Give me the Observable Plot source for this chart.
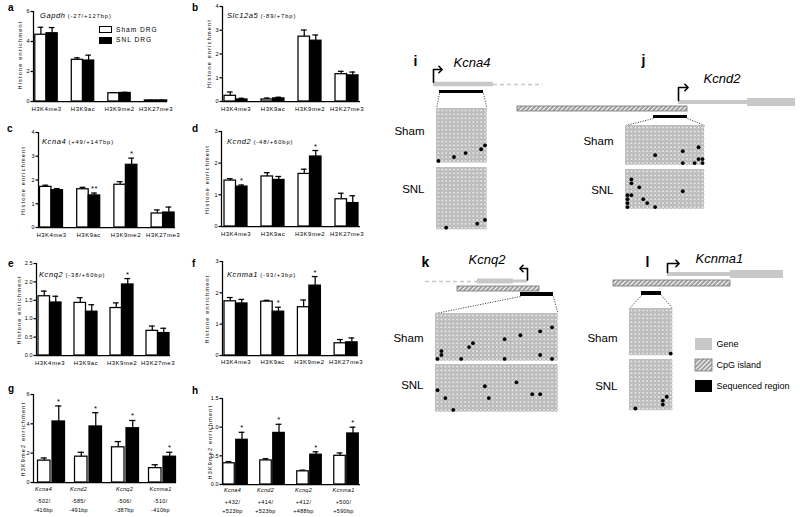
<!DOCTYPE html>
<html><head><meta charset="utf-8">
<script src="https://cdn.jsdelivr.net/npm/d3@7"></script>
<script src="https://cdn.jsdelivr.net/npm/@observablehq/plot@0.6"></script>
<style>
html,body{margin:0;padding:0;background:#fff;}
#fig{position:relative;width:800px;height:517px;overflow:hidden;background:#fff;font-family:"Liberation Sans",Arial,Helvetica,sans-serif;color:#000;}
#fig svg.bar text{letter-spacing:0.5px;}
#fig svg.bar g[aria-description="ylab"] text{letter-spacing:1.2px;}
#fig svg.bar g[aria-description="xsub"] text{letter-spacing:0.3px;}
#fig svg.bar g[aria-description="yticks"] text{letter-spacing:0px;}
</style></head><body>
<div id="fig"></div>
<svg width="0" height="0" style="position:absolute;left:0;top:0"><defs>
<pattern id="hatch" patternUnits="userSpaceOnUse" width="3.2" height="3.2" patternTransform="rotate(45)">
<rect width="3.2" height="3.2" fill="#9d9d9d"/><rect width="1.1" height="3.2" fill="#ffffff"/></pattern></defs></svg>
<script>
// ---------------- DATA ----------------
const histoneMarks = ["H3K4me3", "H3K9ac", "H3K9me2", "H3K27me3"];
const channelGenes = ["Kcna4", "Kcnd2", "Kcnq2", "Kcnma1"];
const gLine2 = ["-502/", "-585/", "-506/", "-510/"];
const gLine3 = ["-416bp", "-491bp", "-387bp", "-410bp"];
const hLine2 = ["+432/", "+414/", "+412/", "+500/"];
const hLine3 = ["+523bp", "+523bp", "+488bp", "+590bp"];

// a: Gapdh
const gapdhSham = [4.45, 2.78, 0.55, 0.07], gapdhShamErr = [0.5, 0.13, 0.04, 0.01];
const gapdhSnl = [4.55, 2.73, 0.57, 0.07], gapdhSnlErr = [0.38, 0.36, 0.04, 0.01];
// b: Slc12a5
const slcSham = [0.24, 0.085, 2.73, 1.15], slcShamErr = [0.16, 0.06, 0.28, 0.12];
const slcSnl = [0.085, 0.13, 2.56, 1.1], slcSnlErr = [0.05, 0.05, 0.24, 0.14];
// c: Kcna4
const kcna4Sham = [1.71, 1.61, 1.8, 0.59], kcna4ShamErr = [0.07, 0.08, 0.13, 0.15];
const kcna4Snl = [1.57, 1.35, 2.64, 0.63], kcna4SnlErr = [0.07, 0.1, 0.28, 0.23];
const kcna4Stars = ["", "**", "*", ""];
// d: Kcnd2
const kcnd2Sham = [1.45, 1.58, 1.66, 0.86], kcnd2ShamErr = [0.06, 0.12, 0.15, 0.19];
const kcnd2Snl = [1.26, 1.47, 2.21, 0.74], kcnd2SnlErr = [0.05, 0.11, 0.19, 0.23];
const kcnd2Stars = ["*", "", "*", ""];
// e: Kcnq2
const kcnq2Sham = [1.61, 1.43, 1.29, 0.67], kcnq2ShamErr = [0.14, 0.14, 0.14, 0.13];
const kcnq2Snl = [1.44, 1.19, 1.93, 0.61], kcnq2SnlErr = [0.17, 0.19, 0.16, 0.13];
const kcnq2Stars = ["", "", "*", ""];
// f: Kcnma1
const kcnma1Sham = [1.73, 1.72, 1.54, 0.39], kcnma1ShamErr = [0.12, 0.04, 0.23, 0.12];
const kcnma1Snl = [1.66, 1.4, 2.23, 0.42], kcnma1SnlErr = [0.13, 0.14, 0.29, 0.14];
const kcnma1Stars = ["", "*", "*", ""];
// g: H3K9me2 upstream
const gSham = [1.49, 1.76, 2.4, 0.98], gShamErr = [0.18, 0.3, 0.39, 0.23];
const gSnl = [4.16, 3.82, 3.7, 1.76], gSnlErr = [1.06, 0.94, 0.53, 0.3];
// h: H3K9me2 downstream
const hSham = [0.37, 0.42, 0.23, 0.5], hShamErr = [0.03, 0.03, 0.02, 0.05];
const hSnl = [0.78, 0.9, 0.52, 0.89], hSnlErr = [0.13, 0.15, 0.05, 0.11];
const allStars = ["*", "*", "*", "*"];
const noStars = ["", "", "", ""];

// Bisulfite diagrams (i-l): structures relative to TSS, methylated CpGs as [site, clone]
const diagramLetters = ["i", "j", "k", "l"];
const geneParts = [[0, 0, 60, "thin"], [1, 0, 69, "thin"], [1, 69, 117, "thick"], [2, -50, -14, "thick"], [2, -14, 0, "thin"], [3, 0, 63, "thin"], [3, 63, 116, "thick"]];
const upstreamDash = [[0, 60, 110], [2, -102, -50]];
const cpgIslands = [[1, -161, 9], [2, -70, 12], [3, -54, 63]];
const seqRegions = [[0, 6, 50], [1, -25, 9], [2, -7, 26], [3, -26, -6]];
const cpgSites = [13, 20, 31, 11];
const shamClones = [14, 10, 12, 12];
const snlClones = [16, 10, 12, 13];
const methKcna4Sham = [[0, 13], [4, 12], [7, 11], [11, 10], [12, 9]];
const methKcna4Snl = [[2, 15], [10, 14], [12, 13]];
const methKcnd2Sham = [[7, 7], [14, 6], [18, 5], [14, 9], [17, 9], [18, 8], [19, 8], [19, 9]];
const methKcnd2Snl = [[1, 2], [1, 3], [3, 4], [14, 5], [0, 6], [1, 6], [0, 7], [4, 7], [0, 8], [5, 8], [0, 9], [7, 9]];
const methKcnq2Sham = [[0, 11], [1, 9], [1, 10], [6, 11], [8, 8], [9, 7], [17, 6], [17, 11], [21, 5], [26, 4], [29, 3], [26, 10], [29, 11]];
const methKcnq2Snl = [[0, 6], [2, 8], [4, 11], [12, 5], [13, 8], [20, 4], [24, 7], [26, 7]];
const methKcnma1Sham = [[10, 11]];
const methKcnma1Snl = [[1, 12], [8, 10], [8, 11], [9, 9]];
const legendItems = ["Gene", "CpG island", "Sequenced region"];
const groupNames = ["Sham", "SNL"];

// ---------------- HELPERS ----------------
const fig = document.getElementById("fig");
const FONT = "Liberation Sans, Arial, Helvetica, sans-serif";
function htmlText(x, base, html, fs, css = "") {
  const d = document.createElement("div");
  d.innerHTML = html;
  d.style.cssText = `position:absolute;left:${x}px;top:${base - 0.83 * fs}px;font-size:${fs}px;line-height:1;white-space:nowrap;${css}`;
  fig.appendChild(d);
  return d;
}
function place(svg, left, top) {
  svg.style.position = "absolute";
  svg.style.left = left + "px";
  svg.style.top = top + "px";
  svg.style.maxWidth = "none";
  fig.appendChild(svg);
}
const f1 = d => d.toFixed(1);
const f0 = d => String(d);

function barPanel(p) {
  const [L, T, W, H] = p.box;
  const rows = p.cats.map((c, i) => ({i, c, sham: p.sham[i], shamE: p.shamErr[i], snl: p.snl[i], snlE: p.snlErr[i], star: p.stars[i],
    l2: p.l2 ? p.l2[i] : null, l3: p.l3 ? p.l3[i] : null, off: p.labOff ? p.labOff[i] : 0}));
  const bw = p.barW / p.pitch, g = (p.gap || 0) / p.pitch;
  const sc = d => d.i - g / 2 - bw / 2, nc = d => d.i + g / 2 + bw / 2;
  const d0 = (p.axisX - p.c0) / p.pitch, d1 = (p.rightX - p.c0) / p.pitch;
  const sw = 1.25;
  const marks = [
    Plot.ruleX(rows, {x: sc, y1: "sham", y2: d => d.sham + d.shamE, strokeWidth: sw}),
    Plot.ruleY(rows, {y: d => d.sham + d.shamE, x1: d => sc(d) - bw / 4, x2: d => sc(d) + bw / 4, strokeWidth: sw}),
    Plot.ruleX(rows, {x: nc, y1: "snl", y2: d => d.snl + d.snlE, strokeWidth: sw}),
    Plot.ruleY(rows, {y: d => d.snl + d.snlE, x1: d => nc(d) - bw / 4, x2: d => nc(d) + bw / 4, strokeWidth: sw}),
    Plot.rect(rows, {x1: d => sc(d) - bw / 2, x2: d => sc(d) + bw / 2, y1: 0, y2: "sham", fill: "white", stroke: "black", strokeWidth: sw}),
    Plot.rect(rows, {x1: d => nc(d) - bw / 2, x2: d => nc(d) + bw / 2, y1: 0, y2: "snl", fill: "black", stroke: "black", strokeWidth: sw}),
    Plot.ruleY([0], {x1: d0, x2: d1, strokeWidth: sw}),
    Plot.ruleX([d0], {y1: 0, y2: p.yMax, strokeWidth: sw}),
    Plot.axisY({ticks: p.ticks, tickFormat: p.fmt, tickSize: 2.5, tickPadding: 1.5, fontSize: 5.5, strokeWidth: sw, label: null, ariaDescription: "yticks"}),
    Plot.text([p.ylabel], {frameAnchor: "left", text: d => d, rotate: -90, dx: -p.ylabDx, dy: p.ylabHalf, textAnchor: "start", fontSize: 5.5, ariaDescription: "ylab"}),
    Plot.text(rows.filter(d => d.star), {x: nc, y: d => d.snl + d.snlE, text: "star", dy: -2, fontSize: 7.5, lineAnchor: "bottom"})
  ];
  if (!p.l2) {
    marks.push(Plot.text(rows, {x: "i", y: 0, text: "c", dy: p.xdy, lineAnchor: "top", fontSize: 6}));
  } else {
    marks.push(Plot.text(rows, {x: d => d.i + d.off / p.pitch, y: 0, text: "c", dy: p.xdy, lineAnchor: "top", fontSize: 5.5, fontStyle: "italic", ariaDescription: "xsub"}));
    marks.push(Plot.text(rows, {x: d => d.i + d.off / p.pitch, y: 0, text: d => d.l2 + "\n" + d.l3, dy: p.xdy + 9, lineAnchor: "top", lineHeight: 1.64, fontSize: 5.5, ariaDescription: "xsub"}));
  }
  const svg = Plot.plot({
    width: W, height: H,
    marginLeft: p.axisX - L, marginRight: L + W - p.rightX,
    marginTop: p.yTop - T, marginBottom: T + H - p.y0,
    x: {domain: [d0, d1], axis: null},
    y: {domain: [0, p.yMax]},
    style: {background: "none", fontFamily: FONT, fontSize: "6px", overflow: "visible", color: "black"},
    marks
  });
  svg.classList.add("bar");
  place(svg, L, T);
}

const HE = "Histone enrichment", KE = "H3K9me2 enrichment";
const panels = [
  {box: [0, 0, 195, 122], axisX: 33, rightX: 167, y0: 101, yTop: 11, yMax: 6, ticks: [0, 2, 4, 6], fmt: f0, c0: 46, pitch: 36.5, barW: 11.2,
   cats: histoneMarks, sham: gapdhSham, shamErr: gapdhShamErr, snl: gapdhSnl, snlErr: gapdhSnlErr, stars: noStars, ylabel: HE, ylabDx: 13, ylabHalf: 33, xdy: 5},
  {box: [195, 0, 195, 122], axisX: 222, rightX: 360, y0: 101, yTop: 6, yMax: 4, ticks: [0, 1, 2, 3, 4], fmt: f0, c0: 235.5, pitch: 37, barW: 11.5,
   cats: histoneMarks, sham: slcSham, shamErr: slcShamErr, snl: slcSnl, snlErr: slcSnlErr, stars: noStars, ylabel: HE, ylabDx: 13.5, ylabHalf: 34, xdy: 5},
  {box: [0, 122, 195, 130], axisX: 38, rightX: 175, y0: 227, yTop: 132, yMax: 4, ticks: [0, 1, 2, 3, 4], fmt: f0, c0: 51, pitch: 37.2, barW: 11.5,
   cats: histoneMarks, sham: kcna4Sham, shamErr: kcna4ShamErr, snl: kcna4Snl, snlErr: kcna4SnlErr, stars: kcna4Stars, ylabel: HE, ylabDx: 15, ylabHalf: 35, xdy: 5},
  {box: [195, 122, 195, 130], axisX: 221, rightX: 360, y0: 226, yTop: 131, yMax: 3, ticks: [0, 1, 2, 3], fmt: f0, c0: 235.5, pitch: 37, barW: 11.5,
   cats: histoneMarks, sham: kcnd2Sham, shamErr: kcnd2ShamErr, snl: kcnd2Snl, snlErr: kcnd2SnlErr, stars: kcnd2Stars, ylabel: HE, ylabDx: 14, ylabHalf: 35, xdy: 5},
  {box: [0, 252, 195, 125], axisX: 36, rightX: 170, y0: 355, yTop: 263, yMax: 2.5, ticks: [0, 0.5, 1, 1.5, 2, 2.5], fmt: f1, c0: 49.5, pitch: 36, barW: 11.5,
   cats: histoneMarks, sham: kcnq2Sham, shamErr: kcnq2ShamErr, snl: kcnq2Snl, snlErr: kcnq2SnlErr, stars: kcnq2Stars, ylabel: HE, ylabDx: 17, ylabHalf: 35, xdy: 5.5},
  {box: [195, 252, 195, 125], axisX: 222, rightX: 358, y0: 355, yTop: 261, yMax: 3, ticks: [0, 1, 2, 3], fmt: f0, c0: 235.5, pitch: 36.7, barW: 11.5,
   cats: histoneMarks, sham: kcnma1Sham, shamErr: kcnma1ShamErr, snl: kcnma1Snl, snlErr: kcnma1SnlErr, stars: kcnma1Stars, ylabel: HE, ylabDx: 15, ylabHalf: 35, xdy: 4},
  {box: [0, 377, 195, 140], axisX: 33, rightX: 176, y0: 482, yTop: 394, yMax: 6, ticks: [0, 2, 4, 6], fmt: f0, c0: 51, pitch: 37, barW: 12.5, gap: 2,
   cats: channelGenes, sham: gSham, shamErr: gShamErr, snl: gSnl, snlErr: gSnlErr, stars: allStars, ylabel: KE, ylabDx: 10, ylabHalf: 38, xdy: 5,
   l2: gLine2, l3: gLine3, labOff: [-8, -10, -1, -2]},
  {box: [195, 377, 195, 140], axisX: 222, rightX: 360, y0: 484, yTop: 398, yMax: 1.5, ticks: [0, 0.5, 1, 1.5], fmt: f1, c0: 235, pitch: 37, barW: 11.5, gap: 1.5,
   cats: channelGenes, sham: hSham, shamErr: hShamErr, snl: hSnl, snlErr: hSnlErr, stars: allStars, ylabel: KE, ylabDx: 12, ylabHalf: 38, xdy: 4,
   l2: hLine2, l3: hLine3, labOff: [-3, -7, -6, -3]}
];
panels.forEach(barPanel);

// Panel letters and titles (HTML text)
const panelLetters = [["a", 8, 11], ["b", 192, 11], ["c", 7, 132], ["d", 192, 132], ["e", 8, 267], ["f", 192, 267], ["g", 8, 392], ["h", 192, 394]];
panelLetters.forEach(([t, x, y]) => htmlText(x, y, t, 10, "font-weight:bold;"));
const titles = [["Gapdh", "(-27/+127bp)", 40, 18], ["Slc12a5", "(-89/+7bp)", 227, 18], ["Kcna4", "(+49/+147bp)", 42, 144],
  ["Kcnd2", "(-48/+60bp)", 227, 144], ["Kcnq2", "(-38/+60bp)", 39, 277], ["Kcnma1", "(-93/+3bp)", 227, 277]];
titles.forEach(([g, s, x, y]) => htmlText(x, y, `<i style="font-size:7.5px;letter-spacing:.6px">${g}</i> <span style="font-size:5.8px;letter-spacing:.9px">${s}</span>`, 7.5));
// legend of panel a
[["Sham DRG", "white", 30], ["SNL DRG", "black", 40.5]].forEach(([t, c, y]) => {
  const b = document.createElement("div");
  b.style.cssText = `position:absolute;left:99px;top:${y - 3.7}px;width:11px;height:5px;border:1.2px solid #000;background:${c};`;
  fig.appendChild(b);
  htmlText(116, y + 2.4, t, 6.6, "letter-spacing:1px;");
});

// ---------------- RIGHT: bisulfite diagrams ----------------
const layout = [
  {tss: 433, gy: 84, cy: 0, sy: 91.5, dir: 1, arrowTop: 69, arrowLen: 7, name: [453, 66], letter: [413, 65], gx: 436, gTop: [108, 167], pitch: 3.88, labY: [131, 189], size: {thin: 4.5, thick: 8, cpg: 5, seq: 3}},
  {tss: 678, gy: 102, cy: 108.5, sy: 116.5, dir: 1, arrowTop: 87, arrowLen: 8, name: [703, 82], letter: [641, 64], gx: 625, gTop: [125, 169], pitch: 3.95, labY: [141, 190], size: {thin: 4, thick: 8, cpg: 5, seq: 3}},
  {tss: 527, gy: 281, cy: 288.5, sy: 294, dir: -1, arrowTop: 268, arrowLen: 6, name: [468, 263], letter: [421, 266], gx: 435, gTop: [313, 364], pitch: 3.95, labY: [338, 385], size: {thin: 3, thick: 5, cpg: 5, seq: 4}},
  {tss: 667, gy: 274, cy: 283, sy: 293, dir: 1, arrowTop: 263, arrowLen: 10, name: [695, 262], letter: [645, 266], gx: 629, gTop: [308, 359], pitch: 3.92, labY: [338, 386], size: {thin: 4, thick: 8, cpg: 6, seq: 4}}
];
const methData = [[methKcna4Sham, methKcna4Snl], [methKcnd2Sham, methKcnd2Snl], [methKcnq2Sham, methKcnq2Snl], [methKcnma1Sham, methKcnma1Snl]];

const genes = geneParts.map(([k, a, b, t]) => {const L = layout[k], h = L.size[t]; return {x1: L.tss + a, x2: L.tss + b, y1: L.gy - h / 2, y2: L.gy + h / 2};});
const dashes = upstreamDash.map(([k, a, b]) => {const L = layout[k]; return {x1: L.tss + a, x2: L.tss + b, y: L.gy};});
const islands = cpgIslands.map(([k, a, b]) => {const L = layout[k], h = L.size.cpg; return {x1: L.tss + a, x2: L.tss + b, y1: L.cy - h / 2, y2: L.cy + h / 2};});
const seqs = seqRegions.map(([k, a, b]) => {const L = layout[k], h = L.size.seq; return {k, x1: L.tss + a, x2: L.tss + b, y1: L.sy - h / 2, y2: L.sy + h / 2};});
const grids = [], cells = [], meth = [], groupLabels = [];
layout.forEach((L, k) => {
  [0, 1].forEach(grp => {
    const n = grp ? snlClones[k] : shamClones[k];
    const top = L.gTop[grp];
    grids.push({k, grp, x1: L.gx, x2: L.gx + cpgSites[k] * L.pitch, y1: top, y2: top + n * L.pitch});
    for (let r = 0; r < n; r++) for (let s = 0; s < cpgSites[k]; s++)
      cells.push({x: L.gx + (s + 0.5) * L.pitch, y: top + (r + 0.5) * L.pitch});
    methData[k][grp].forEach(([s, r]) => meth.push({x: L.gx + (s + 0.5) * L.pitch, y: top + (r + 0.5) * L.pitch}));
    groupLabels.push({x: L.gx - 12, y: L.labY[grp], text: groupNames[grp]});
  });
});
const connectors = [];
seqs.forEach(s => {
  const gdd = grids.find(g => g.k === s.k && g.grp === 0);
  connectors.push({x1: s.x1, y1: s.y2, x2: gdd.x1, y2: gdd.y1});
  connectors.push({x1: s.x2, y1: s.y2, x2: gdd.x2, y2: gdd.y1});
});
const arrows = [];
layout.forEach((L, k) => {
  arrows.push({k, x: L.tss, y: L.gy - L.size.thin / 2});
  arrows.push({k, x: L.tss, y: L.arrowTop});
  arrows.push({k, x: L.tss + L.dir * L.arrowLen, y: L.arrowTop});
});
const names = layout.map((L, k) => ({x: L.name[0], y: L.name[1], text: channelGenes[k]}));
const letters = layout.map((L, k) => ({x: L.letter[0], y: L.letter[1], text: diagramLetters[k]}));
const legendRows = legendItems.map((t, i) => ({i, t, x1: 695, x2: 712, y1: 338 + 21 * i, y2: 350 + 21 * i}));

const R = {x0: 360, y0: 25, w: 440, h: 420};
const right = Plot.plot({
  width: R.w, height: R.h, margin: 0,
  x: {domain: [R.x0, R.x0 + R.w], range: [0, R.w], axis: null},
  y: {domain: [R.y0, R.y0 + R.h], range: [0, R.h], axis: null},
  style: {background: "none", fontFamily: FONT, overflow: "visible", color: "black"},
  marks: [
    Plot.ruleY(dashes, {y: "y", x1: "x1", x2: "x2", stroke: "#c8c8c8", strokeWidth: 1.6, strokeDasharray: "4,3"}),
    Plot.rect(genes, {x1: "x1", x2: "x2", y1: "y1", y2: "y2", fill: "#c8c8c8"}),
    Plot.rect(islands, {x1: "x1", x2: "x2", y1: "y1", y2: "y2", fill: "url(#hatch)", stroke: "#808080", strokeWidth: 0.9}),
    Plot.rect(seqs, {x1: "x1", x2: "x2", y1: "y1", y2: "y2", fill: "black"}),
    Plot.line(arrows, {x: "x", y: "y", z: "k", stroke: "black", strokeWidth: 1.6, markerEnd: "arrow"}),
    Plot.link(connectors, {x1: "x1", y1: "y1", x2: "x2", y2: "y2", stroke: "#222", strokeWidth: 0.8, strokeDasharray: "1.2,1.3"}),
    Plot.rect(grids, {x1: "x1", x2: "x2", y1: "y1", y2: "y2", fill: "#c2c2c2"}),
    Plot.dot(cells, {x: "x", y: "y", r: 1.5, fill: "#e4e4e4", stroke: "#a2a2a2", strokeWidth: 0.5}),
    Plot.dot(meth, {x: "x", y: "y", r: 1.9, fill: "black"}),
    Plot.text(groupLabels, {x: "x", y: "y", text: "text", textAnchor: "end", lineAnchor: "middle", fontSize: 11.5}),
    Plot.text(names, {x: "x", y: "y", text: "text", textAnchor: "start", lineAnchor: "bottom", fontSize: 13, fontStyle: "italic"}),
    Plot.text(letters, {x: "x", y: "y", text: "text", textAnchor: "start", lineAnchor: "bottom", fontSize: 14, fontWeight: "bold"}),
    Plot.rect(legendRows.filter(d => d.i === 0), {x1: "x1", x2: "x2", y1: "y1", y2: "y2", fill: "#c8c8c8"}),
    Plot.rect(legendRows.filter(d => d.i === 1), {x1: "x1", x2: "x2", y1: "y1", y2: "y2", fill: "url(#hatch)", stroke: "#808080", strokeWidth: 0.9}),
    Plot.rect(legendRows.filter(d => d.i === 2), {x1: "x1", x2: "x2", y1: "y1", y2: "y2", fill: "black"}),
    Plot.text(legendRows, {x: d => d.x2 + 4, y: d => (d.y1 + d.y2) / 2, text: "t", textAnchor: "start", lineAnchor: "middle", fontSize: 9})
  ]
});
place(right, R.x0, R.y0);
</script>
</body></html>
